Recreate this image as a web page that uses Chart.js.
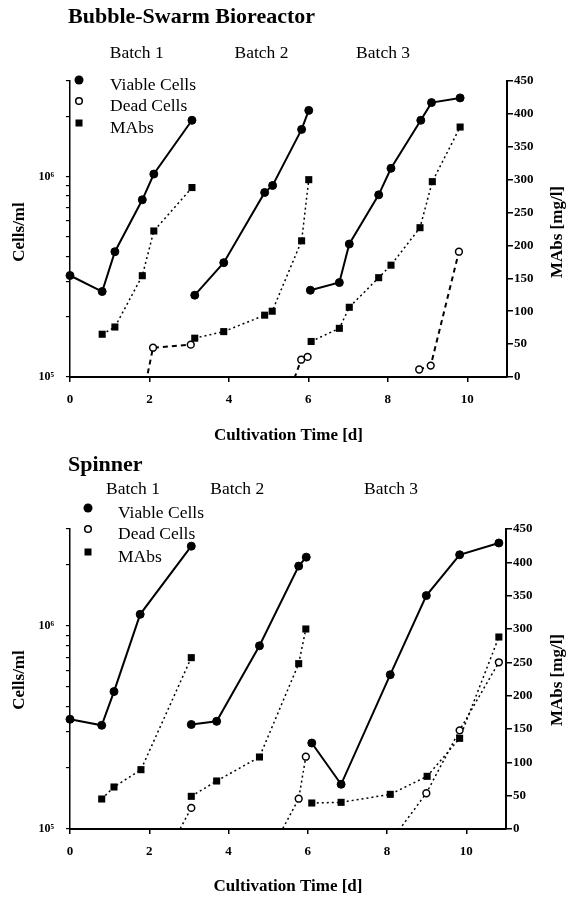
<!DOCTYPE html>
<html>
<head>
<meta charset="utf-8">
<script src="https://cdn.jsdelivr.net/npm/chart.js@4.4.1/dist/chart.umd.min.js"></script>
<style>
  html, body { margin: 0; padding: 0; background: #fff; }
  canvas { display: block; }
</style>
</head>
<body>
<canvas id="bsChart" width="571" height="450"></canvas>
<canvas id="spChart" width="571" height="449"></canvas>
<script>
// tick values
const dayTicks = [0, 2, 4, 6, 8, 10];
const cellTicks = [1e5, 2e5, 3e5, 4e5, 5e5, 6e5, 7e5, 8e5, 9e5, 1e6, 2e6, 3e6];
const batchNames = ["Batch 1", "Batch 2", "Batch 3"];
const legendNames = ["Viable Cells", "Dead Cells", "MAbs"];

// Bubble-Swarm Bioreactor (null = break between batches)
const bsViableDay = [0, 0.81, 1.13, 1.82, 2.11, 3.07, null, 3.14, 3.87, 4.90, 5.10, 5.83, 6.01, null, 6.05, 6.78, 7.03, 7.77, 8.08, 8.83, 9.10, 9.82];
const bsViableCells = [3.21e5, 2.67e5, 4.22e5, 7.66e5, 1.03e6, 1.91e6, null, 2.56e5, 3.72e5, 8.33e5, 9.03e5, 1.72e6, 2.14e6, null, 2.71e5, 2.96e5, 4.61e5, 8.11e5, 1.10e6, 1.91e6, 2.34e6, 2.47e6];
const bsDeadDay = [1.82, 2.09, 3.04, null, 5.10, 5.82, 5.98, null, 8.79, 9.08, 9.79];
const bsDeadCells = [7.7e4, 1.40e5, 1.45e5, null, 5.0e4, 1.22e5, 1.26e5, null, 1.09e5, 1.14e5, 4.22e5];
const bsMabDay = [0.81, 1.13, 1.82, 2.11, 3.07, null, 3.14, 3.87, 4.90, 5.09, 5.83, 6.01, null, 6.07, 6.78, 7.03, 7.77, 8.08, 8.81, 9.12, 9.82];
const bsMabs = [65, 76, 154, 222, 288, null, 59, 69, 94, 100, 207, 300, null, 54, 74, 106, 151, 170, 227, 297, 380];

// Spinner
const spViableDay = [0, 0.80, 1.11, 1.77, 3.06, null, 3.06, 3.70, 4.78, 5.77, 5.96, null, 6.10, 6.84, 8.08, 8.99, 9.83, 10.82];
const spViableCells = [3.47e5, 3.24e5, 4.75e5, 1.14e6, 2.47e6, null, 3.27e5, 3.39e5, 7.98e5, 1.97e6, 2.18e6, null, 2.65e5, 1.66e5, 5.75e5, 1.41e6, 2.24e6, 2.56e6];
const spDeadDay = [1.77, 3.06, null, 4.78, 5.77, 5.95, null, 8.08, 8.99, 9.83, 10.82];
const spDeadCells = [4.3e4, 1.27e5, null, 6.1e4, 1.41e5, 2.27e5, null, 8.65e4, 1.50e5, 3.06e5, 6.62e5];
const spMabDay = [0.80, 1.11, 1.79, 3.06, null, 3.06, 3.70, 4.78, 5.77, 5.95, null, 6.10, 6.84, 8.08, 9.01, 9.83, 10.82];
const spMabs = [45, 63, 89, 257, null, 49, 72, 108, 248, 300, null, 39, 40, 52, 79, 136, 288];

const serif = '"Liberation Serif", "Times New Roman", serif';

function toPoints(days, vals) {
  let last = 0;
  return days.map((d, i) => {
    if (d === null) return { x: last, y: null };
    last = d;
    return { x: d, y: vals[i] };
  });
}

function decor(t) {
  return {
    id: "decor",
    afterDraw(chart) {
      const ctx = chart.ctx;
      const xs = chart.scales.x;
      const area = chart.chartArea;
      ctx.save();
      ctx.fillStyle = "#000";
      ctx.strokeStyle = "#000";
      ctx.textBaseline = "middle";

      ctx.font = "bold 22px " + serif;
      ctx.textAlign = "left";
      ctx.fillText(t.title, t.titleX, t.titleY);

      ctx.font = "17.5px " + serif;
      ctx.textAlign = "center";
      batchNames.forEach((b, i) => ctx.fillText(b, xs.getPixelForValue(t.batchDays[i]), t.batchY));

      // legend
      ctx.textAlign = "left";
      legendNames.forEach((name, i) => {
        const my = t.legendY[i];
        ctx.beginPath();
        if (i === 0) {
          ctx.arc(t.legendX, my, 4.5, 0, Math.PI * 2);
          ctx.fill();
        } else if (i === 1) {
          ctx.lineWidth = 1.5;
          ctx.fillStyle = "#fff";
          ctx.arc(t.legendX, my, 3.3, 0, Math.PI * 2);
          ctx.fill();
          ctx.stroke();
          ctx.fillStyle = "#000";
        } else {
          ctx.fillRect(t.legendX - 3.5, my - 3.5, 7, 7);
        }
        ctx.fillText(name, t.legendTextX, my + 5);
      });

      // axis titles
      ctx.font = "bold 17px " + serif;
      ctx.textAlign = "center";
      ctx.fillText("Cultivation Time [d]", (area.left + area.right) / 2, t.xTitleY);
      [[20, "Cells/ml"], [558, "MAbs [mg/l]"]].forEach(([px, txt]) => {
        ctx.save();
        ctx.translate(px, t.yTitleY);
        ctx.rotate(-Math.PI / 2);
        ctx.fillText(txt, 0, 0);
        ctx.restore();
      });
      ctx.restore();
    }
  };
}

function makeChart(id, s, t) {
  const tickFont = { family: serif, size: 13, weight: "bold" };
  return new Chart(document.getElementById(id), {
    type: "line",
    data: {
      datasets: [
        {
          label: "Viable Cells",
          data: toPoints(s.viableDay, s.viable),
          yAxisID: "y",
          borderColor: "#000",
          borderWidth: 2,
          pointRadius: 4,
          pointBorderWidth: 1,
          pointBackgroundColor: "#000",
          pointBorderColor: "#000",
          clip: { left: 8, right: 8, top: 8, bottom: 0 }
        },
        {
          label: "Dead Cells",
          data: toPoints(s.deadDay, s.dead),
          yAxisID: "y",
          borderColor: "#000",
          borderWidth: t.deadWidth,
          borderDash: t.deadDash,
          pointRadius: 3.4,
          pointBorderWidth: 1.5,
          pointBackgroundColor: "#fff",
          pointBorderColor: "#000",
          clip: { left: 8, right: 8, top: 8, bottom: 0 }
        },
        {
          label: "MAbs",
          data: toPoints(s.mabDay, s.mabs),
          yAxisID: "y1",
          borderColor: "#000",
          borderWidth: 1.5,
          borderDash: [2, 3],
          pointStyle: "rect",
          pointRadius: 5,
          pointBorderWidth: 0,
          pointBackgroundColor: "#000",
          clip: { left: 8, right: 8, top: 8, bottom: 0 }
        }
      ]
    },
    options: {
      responsive: false,
      animation: false,
      devicePixelRatio: 1,
      spanGaps: false,
      layout: { padding: { top: t.top, left: 0, right: 0, bottom: 0 } },
      plugins: { legend: { display: false }, tooltip: { enabled: false } },
      scales: {
        x: {
          type: "linear",
          min: 0,
          max: 11,
          afterBuildTicks: (sc) => { sc.ticks = dayTicks.map((v) => ({ value: v })); },
          afterFit: (sc) => { sc.height = t.xHeight; },
          ticks: { font: tickFont, color: "#000", padding: 10, autoSkip: false, maxRotation: 0 },
          grid: { drawOnChartArea: false, tickLength: 5, color: "#000", lineWidth: 1.5 },
          border: { color: "#000", width: 2 }
        },
        y: {
          type: "logarithmic",
          position: "left",
          min: 1e5,
          max: 3e6,
          afterBuildTicks: (sc) => { sc.ticks = cellTicks.map((v) => ({ value: v })); },
          afterFit: (sc) => { sc.width = 70; },
          ticks: {
            font: { family: serif, size: 12, weight: "bold" },
            color: "#000",
            padding: 12,
            autoSkip: false,
            callback: (v) => (v === 1e5 ? "10\u2075" : v === 1e6 ? "10\u2076" : "")
          },
          grid: { drawOnChartArea: false, tickLength: 4, color: "#000", lineWidth: 1.2 },
          border: { color: "#000", width: 1.5 }
        },
        y1: {
          type: "linear",
          position: "right",
          min: 0,
          max: 450,
          afterFit: (sc) => { sc.width = t.rightWidth; },
          ticks: { stepSize: 50, font: tickFont, color: "#000", padding: 1, autoSkip: false },
          grid: { drawOnChartArea: false, tickLength: 6, color: "#000", lineWidth: 1.5 },
          border: { color: "#000", width: 2 }
        }
      }
    },
    plugins: [decor(t)]
  });
}

makeChart("bsChart",
  { viableDay: bsViableDay, viable: bsViableCells, deadDay: bsDeadDay, dead: bsDeadCells, mabDay: bsMabDay, mabs: bsMabs },
  {
    title: "Bubble-Swarm Bioreactor", titleX: 68, titleY: 17,
    batchDays: [1.68, 4.82, 7.88], batchY: 53,
    legendX: 79, legendTextX: 110, legendY: [80, 101, 123],
    xTitleY: 436, yTitleY: 232,
    top: 81, xHeight: 73, rightWidth: 64,
    deadDash: [5, 4], deadWidth: 2
  });

makeChart("spChart",
  { viableDay: spViableDay, viable: spViableCells, deadDay: spDeadDay, dead: spDeadCells, mabDay: spMabDay, mabs: spMabs },
  {
    title: "Spinner", titleX: 68, titleY: 15,
    batchDays: [1.59, 4.22, 8.1], batchY: 39,
    legendX: 88, legendTextX: 118, legendY: [58, 79, 102],
    xTitleY: 437, yTitleY: 230,
    top: 79, xHeight: 70, rightWidth: 65,
    deadDash: [2, 3], deadWidth: 1.5
  });
</script>
</body>
</html>
